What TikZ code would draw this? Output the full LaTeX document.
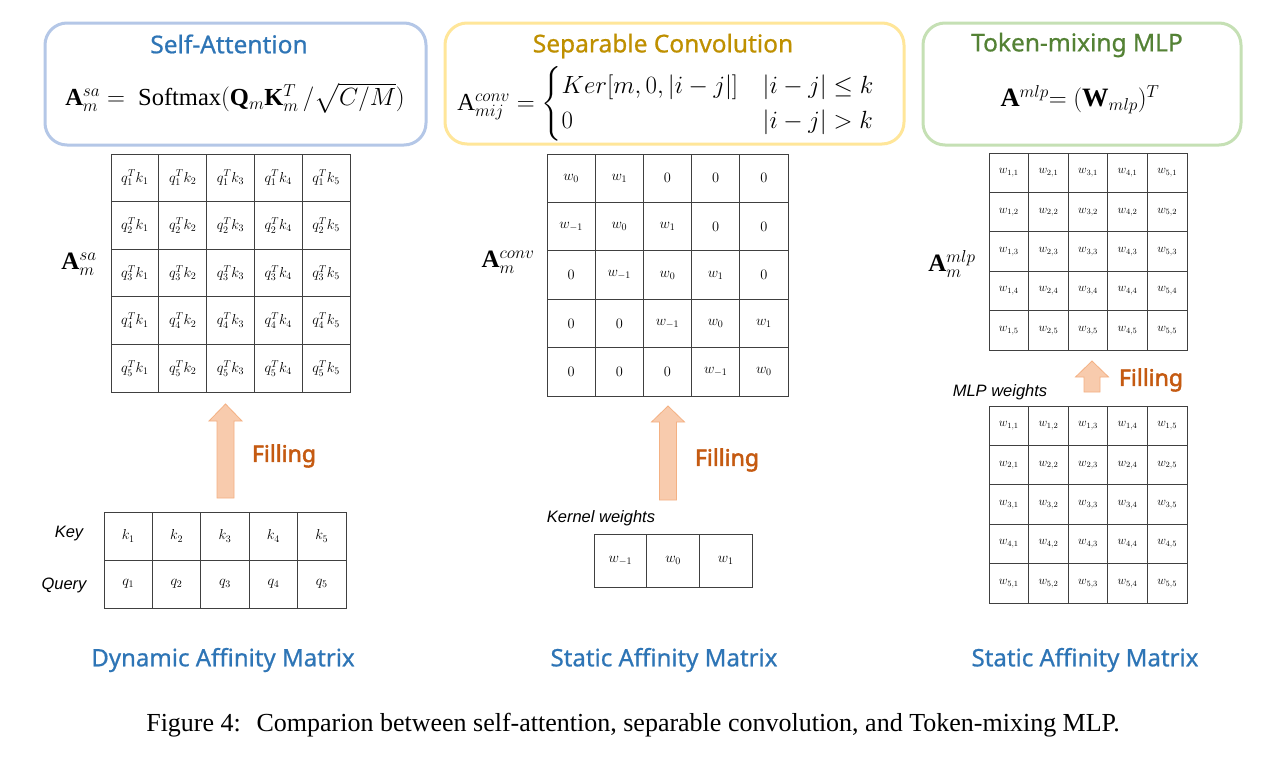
\documentclass[tikz,border=0pt]{standalone}
\usepackage{fontspec}
\usepackage{amsmath}
\setmainfont{Liberation Serif}
\newfontfamily\titlefont[FakeBold=0.7]{Noto Sans}
\newfontfamily\boldtitlefont[FakeBold=2.2]{Noto Sans}
\newfontfamily\labfont{Liberation Sans}
\definecolor{bluebd}{HTML}{B4C7E7}
\definecolor{bluetx}{HTML}{2E75B6}
\definecolor{yellowbd}{HTML}{FFE699}
\definecolor{yellowtx}{HTML}{BF9000}
\definecolor{greenbd}{HTML}{C5E0B4}
\definecolor{greentx}{HTML}{548235}
\definecolor{arrowfill}{HTML}{F8CBAD}
\definecolor{arrowbd}{HTML}{F4B183}
\definecolor{filltx}{HTML}{C55A11}
\definecolor{gridc}{HTML}{404040}
\tikzset{
  headbox/.style={draw, line width=3pt, rounded corners=22pt},
  title/.style={font=\titlefont\fontsize{24.5}{28}\selectfont},
  formula/.style={font=\fontsize{24.5}{29}\selectfont},
  cellsty/.style={draw=gridc, line width=0.9pt, inner sep=0pt, anchor=center},
  bigcell/.style={cellsty, minimum width=48pt, minimum height=48pt, font=\fontsize{14}{16}\selectfont},
  smallcell/.style={cellsty, minimum width=39.6pt, minimum height=39.4pt, font=\fontsize{11.5}{13}\selectfont},
  kcell/.style={cellsty, minimum width=52.7pt, minimum height=53pt, font=\fontsize{14}{16}\selectfont},
  matlab/.style={font=\fontsize{25}{29}\selectfont},
  sidelab/.style={font=\labfont\itshape\fontsize{16.5}{19}\selectfont},
  filllab/.style={text=filltx, font=\boldtitlefont\fontsize{23}{26}\selectfont},
  botlab/.style={text=bluetx, font=\titlefont\fontsize{24}{27}\selectfont},
  blockarrow/.style={fill=arrowfill, draw=arrowbd, line width=0.8pt},
}
\begin{document}
\begin{tikzpicture}[x=1pt,y=-1pt]
\useasboundingbox (0,0) rectangle (1280,761);
\fill[white] (0,0) rectangle (1280,761);

% header boxes
\draw[headbox, draw=bluebd] (45,23) rectangle (426,145);
\node[title, text=bluetx] (t1) at (229,44) {Self-Attention};
\node[formula] (f1) at (235,98) {$\mathbf{A}_m^{sa} =\ \mathrm{Softmax}(\mathbf{Q}_m\mathbf{K}_m^T\,/\sqrt{C/M})$};

\draw[headbox, draw=yellowbd] (445,23) rectangle (904,144);
\node[title, text=yellowtx] (t2) at (663,46) {Separable Convolution};
\node[formula] (f2) at (666,104) {$\mathrm{A}_{mij}^{conv} = \begin{cases} Ker[m,0,|i-j|] & |i-j|\le k\\ 0 & |i-j|>k\end{cases}$};

\draw[headbox, draw=greenbd] (923,23) rectangle (1241,145);
\node[title, text=greentx] (t3) at (1077,45) {Token-mixing MLP};
\node[formula, font=\fontsize{26.5}{30}\selectfont] (f3) at (1080,100) {$\mathbf{A}^{mlp}{=}\ (\mathbf{W}_{mlp})^T$};

% left matrix
\foreach \r in {1,...,5}{
  \foreach \c in {1,...,5}{
    \node[bigcell, minimum width=47.8pt, minimum height=47.6pt] (sa-\r-\c) at ({111+47.8*(\c-0.5)},{154+47.6*(\r-0.5)}) {$q_{\r}^{T}k_{\c}$};
  }
}
\node[matlab] (lsa) at (79,264) {$\mathbf{A}_m^{sa}$};

% key/query
\foreach \c in {1,...,5}{
  \node[bigcell, minimum width=48.4pt] (k-\c) at ({104+48.4*(\c-0.5)},536) {$k_{\c}$};
  \node[bigcell, minimum width=48.4pt] (q-\c) at ({104+48.4*(\c-0.5)},584) {$q_{\c}$};
}
\node[sidelab] (keylab) at (69,534) {Key};
\node[sidelab] (qlab) at (64,585) {Query};

% arrow 1
\coordinate (a1) at (225.5,498);
\draw[blockarrow] (a1) ++(-8.5,0) -- ++(0,-77) -- ++(-8,0) -- ++(16.5,-17) -- ++(16.5,17) -- ++(-8,0) -- ++(0,77) -- cycle;
\node[filllab] (fill1) at (284,456) {Filling};

% middle matrix
\foreach \r in {1,...,5}{
  \foreach \c in {1,...,5}{
    \pgfmathtruncatemacro{\d}{\c-\r}
    \node[bigcell, minimum width=48.2pt, minimum height=48.4pt] (cv-\r-\c) at ({547+48.2*(\c-0.5)},{154+48.4*(\r-0.5)})
      {\ifnum\d=0 $w_0$\else\ifnum\d=1 $w_1$\else\ifnum\d=-1 $w_{-1}$\else $0$\fi\fi\fi};
  }
}
\node[matlab] (lcv) at (508,262) {$\mathbf{A}_m^{conv}$};

% arrow 2
\coordinate (a2) at (668,500);
\draw[blockarrow] (a2) ++(-8.5,0) -- ++(0,-78) -- ++(-8,0) -- ++(16.5,-16) -- ++(16.5,16) -- ++(-8,0) -- ++(0,78) -- cycle;
\node[filllab] (fill2) at (727,460) {Filling};

\node[sidelab] (kwlab) at (601,518) {Kernel weights};
\node[kcell] (kw-1) at ({594+52.7*0.5},560.5) {$w_{-1}$};
\node[kcell] (kw-2) at ({594+52.7*1.5},560.5) {$w_0$};
\node[kcell] (kw-3) at ({594+52.7*2.5},560.5) {$w_1$};

% right matrices
\foreach \r in {1,...,5}{
  \foreach \c in {1,...,5}{
    \node[smallcell] (mt-\r-\c) at ({989+39.6*(\c-0.5)},{153+39.4*(\r-0.5)}) {$w_{\c,\r}$};
    \node[smallcell] (mb-\r-\c) at ({989+39.6*(\c-0.5)},{406+39.4*(\r-0.5)}) {$w_{\r,\c}$};
  }
}
\node[matlab] (lml) at (952,264) {$\mathbf{A}_m^{mlp}$};

% arrow 3
\coordinate (a3) at (1092,392);
\draw[blockarrow] (a3) ++(-8,0) -- ++(0,-15) -- ++(-8.5,0) -- ++(16.5,-16) -- ++(16.5,16) -- ++(-8.5,0) -- ++(0,15) -- cycle;
\node[filllab] (fill3) at (1151,380) {Filling};
\node[sidelab] (mlab) at (1000,392) {MLP weights};

% bottom labels
\node[botlab] (b1) at (223,660) {Dynamic Affinity Matrix};
\node[botlab] (b2) at (664,660) {Static Affinity Matrix};
\node[botlab] (b3) at (1085,660) {Static Affinity Matrix};

% caption
\node[font=\fontsize{26}{30}\selectfont] (cap) at (633,725) {Figure 4:\hspace{0.6em}Comparion between self-attention, separable convolution, and Token-mixing MLP.};
\end{tikzpicture}
\end{document}
